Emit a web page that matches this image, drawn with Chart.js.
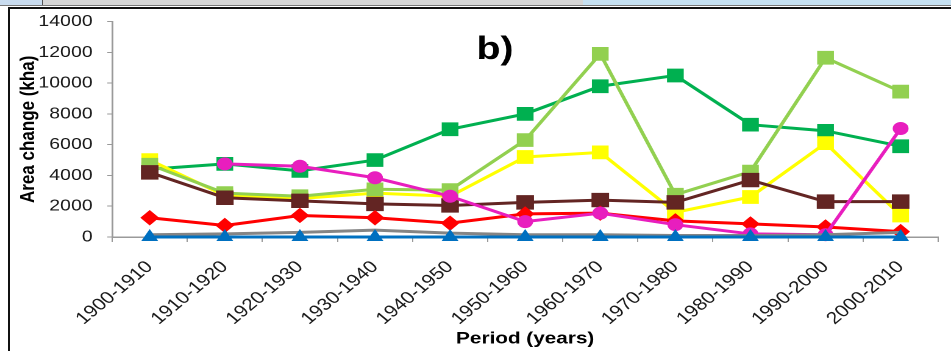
<!DOCTYPE html>
<html>
<head>
<meta charset="utf-8">
<title>Area change by period</title>
<script src="https://cdn.jsdelivr.net/npm/chart.js@4.4.1/dist/chart.umd.min.js"></script>
<style>
  html, body { margin: 0; padding: 0; background: #fff; overflow: hidden; }
  body { width: 951px; height: 351px; position: relative; }
  /* the source picture is stretched sideways, so the chart is too */
  #wrap { position: absolute; left: 0; top: 0; width: 780px; height: 351px;
          transform: scaleX(1.2192); transform-origin: 0 0; }
  .strip { position: absolute; top: 0; height: 5px; }
  #s1 { left: 0; width: 42px; background: #c9dcef; border-right: 1px solid #555; }
  #s2 { left: 43px; width: 540px; background: #d6d6d6; }
  #s3 { left: 583px; width: 368px; background: #c6e1f2; }
  #rule { position: absolute; top: 5px; left: 0; width: 951px; height: 1px; background: #777; }
  #frameTop { position: absolute; top: 7px; left: 8px; width: 943px; height: 2px; background: #111; }
  #frameLeft { position: absolute; top: 7px; left: 8px; width: 2px; height: 344px; background: #111; }
</style>
</head>
<body>
<div class="strip" id="s1"></div><div class="strip" id="s2"></div><div class="strip" id="s3"></div>
<div id="rule"></div>
<div id="frameTop"></div>
<div id="frameLeft"></div>
<div id="wrap"><canvas id="chart" width="780" height="351"></canvas></div>

<script>
// ── Data (kha) ───────────────────────────────
const periods = ["1900-1910", "1910-1920", "1920-1930", "1930-1940", "1940-1950",
                 "1950-1960", "1960-1970", "1970-1980", "1980-1990", "1990-2000", "2000-2010"];

const darkGreen  = [4400, 4750, 4300, 5000, 7000, 8000, 9800, 10500, 7300, 6900, 5900];
const lightGreen = [4700, 2850, 2650, 3100, 3050, 6300, 11900, 2750, 4250, 11650, 9450];
const yellow     = [5000, 2700, 2500, 2850, 2650, 5200, 5500, 1600, 2600, 6100, 1400];
const brown      = [4200, 2550, 2350, 2150, 2050, 2250, 2400, 2250, 3700, 2300, 2300];
const magenta    = [null, 4750, 4600, 3850, 2650, 1000, 1550, 800, 200, 150, 7050];
const red        = [1250, 750, 1400, 1250, 900, 1500, 1550, 1050, 850, 650, 350];
const grey       = [150, 200, 300, 450, 250, 150, 150, 100, 100, 150, 300];
const blue       = [0, 0, 0, 0, 0, 0, 0, 0, 0, 0, 0];

const yTicks = [0, 2000, 4000, 6000, 8000, 10000, 12000, 14000];

const FONT = "'Liberation Sans', Arial, sans-serif";

function series(data, color, style, radius) {
  return {
    data,
    borderColor: color,
    backgroundColor: color,
    borderWidth: 3,
    tension: 0,
    pointStyle: style,
    pointRadius: radius,
    pointBackgroundColor: color,
    pointBorderColor: color,
    pointBorderWidth: 1,
    clip: false,
  };
}

// "b)" panel letter
const panelLabel = {
  id: "panelLabel",
  afterDraw(chart) {
    const ctx = chart.ctx;
    ctx.save();
    ctx.font = "bold 32px " + FONT;
    ctx.fillStyle = "#000";
    ctx.textAlign = "center";
    ctx.textBaseline = "middle";
    ctx.fillText("b)", 406, 50);
    ctx.restore();
  }
};

new Chart(document.getElementById("chart"), {
  type: "line",
  data: {
    labels: periods,
    // first in list is drawn on top
    datasets: [
      series(blue,       "#0070C0", "triangle", 7),
      series(grey,       "#858585", "circle",   0),
      series(magenta,    "#E81EBE", "circle",   6),
      series(red,        "#FF0000", "rectRot",  7),
      series(brown,      "#632523", "rect",     9.5),
      series(lightGreen, "#92D050", "rect",     9),
      series(yellow,     "#FFFF00", "rect",     9),
      series(darkGreen,  "#00B050", "rect",     9),
    ]
  },
  options: {
    responsive: false,
    devicePixelRatio: 2,
    animation: false,
    layout: { padding: { top: 20, right: 8, bottom: 0, left: 0 } },
    plugins: { legend: { display: false }, tooltip: { enabled: false } },
    scales: {
      x: {
        offset: true,
        grid: { offset: true, drawOnChartArea: false, tickLength: 5, color: "#9a9a9a" },
        border: { color: "#9a9a9a", width: 1.5 },
        ticks: {
          autoSkip: false, minRotation: 45, maxRotation: 45, padding: 15,
          color: "#1a1a1a", font: { family: FONT, size: 17 }
        },
        title: {
          display: true, text: "Period (years)", color: "#000",
          font: { family: FONT, size: 17, weight: "bold" },
          padding: { top: 0, bottom: 2 }
        },
        afterFit: s => { s.height = 114; }
      },
      y: {
        min: 0, max: 14000,
        afterBuildTicks: s => { s.ticks = yTicks.map(v => ({ value: v })); },
        grid: { drawOnChartArea: false, tickLength: 4, color: "#9a9a9a" },
        border: { color: "#9a9a9a", width: 1.5 },
        ticks: {
          padding: 12, color: "#1a1a1a", font: { family: FONT, size: 16 },
          callback: v => String(v)
        },
        title: {
          display: true, text: "Area change (kha)", color: "#000",
          font: { family: FONT, size: 17, weight: "bold" },
          padding: { top: 13, bottom: 0 }
        },
        afterFit: s => { s.width = 92; }
      }
    }
  },
  plugins: [panelLabel]
});
</script>
</body>
</html>
